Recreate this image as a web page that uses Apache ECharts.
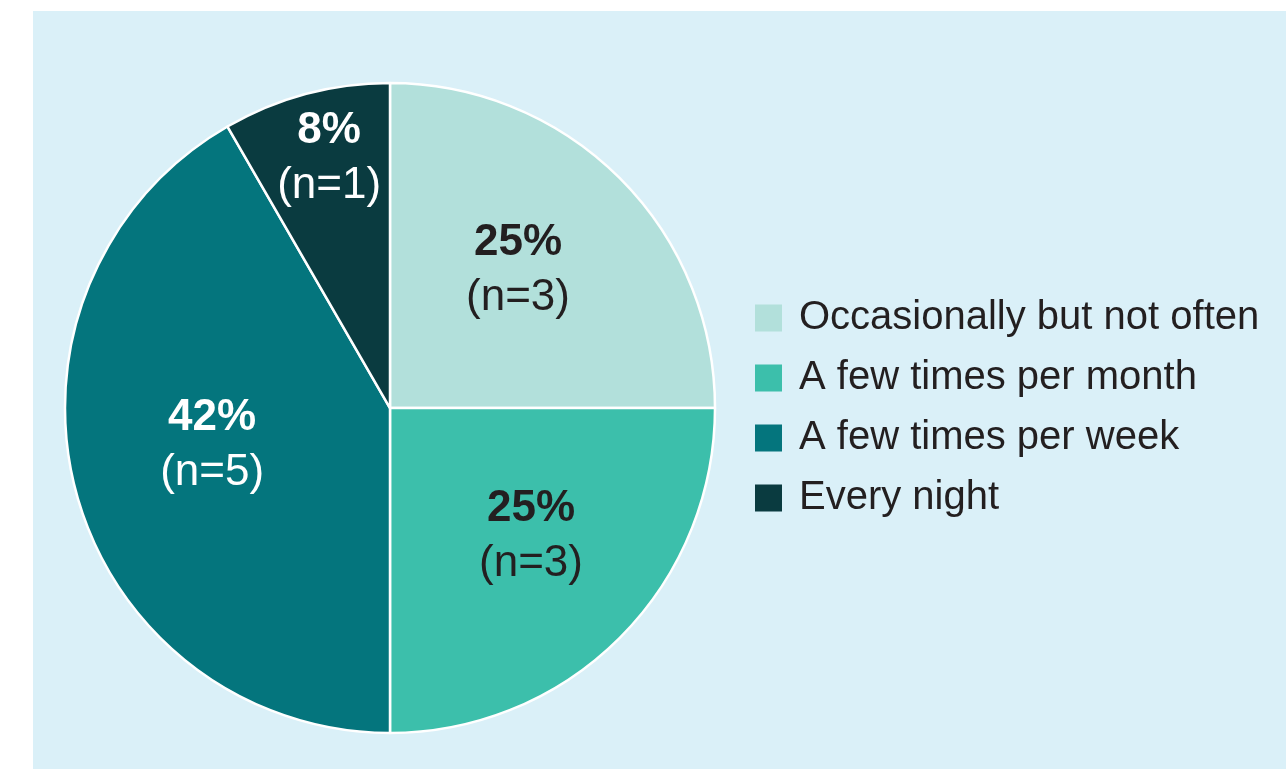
<!DOCTYPE html>
<html>
<head>
<meta charset="utf-8">
<script src="https://cdn.jsdelivr.net/npm/echarts@6/dist/echarts.min.js"></script>
<style>
  html, body { margin: 0; padding: 0; background: #fff; }
  #chart { width: 1286px; height: 769px; }
</style>
</head>
<body>
<div id="chart"></div>
<script>
// data
const categories = ['Occasionally but not often', 'A few times per month', 'A few times per week', 'Every night']
const counts = [3, 3, 5, 1]

// styling
const sliceColors = ['#b2e0db', '#3cbfab', '#04757d', '#0a3b40']
const labelDark = [true, true, false, false]
const labelShift = [[11, -21], [24, 11], [-18, -5], [-18, -90]]

const chart = echarts.init(document.getElementById('chart'))

const font = 'Liberation Sans, Arial, sans-serif'

const option = {
  animation: false,
  backgroundColor: '#fff',
  color: sliceColors,
  graphic: [{
    type: 'rect',
    z: -10,
    silent: true,
    shape: { x: 33, y: 11, width: 1253, height: 758 },
    style: { fill: '#daf0f8' }
  }],
  legend: {
    orient: 'vertical',
    left: 750,
    top: 293,
    itemWidth: 27,
    itemHeight: 27,
    itemGap: 20,
    icon: 'rect',
    itemStyle: { borderWidth: 0 },
    data: categories,
    textStyle: {
      fontFamily: font,
      fontSize: 40,
      lineHeight: 40,
      color: '#231f20',
      padding: [0, 0, 0, 12]
    }
  },
  series: [{
    type: 'pie',
    center: [390, 408],
    radius: 325,
    startAngle: 90,
    clockwise: true,
    silent: true,
    itemStyle: { borderColor: '#fff', borderWidth: 2.5 },
    label: {
      show: true,
      position: 'inside',
      fontFamily: font,
      formatter: function (p) {
        const s = labelDark[p.dataIndex] ? 'd' : 'l'
        return '{p' + s + '|' + Math.round(p.percent) + '%}\n{n' + s + '|(n=' + p.value + ')}'
      },
      rich: {
        pd: { fontSize: 44, fontWeight: 'bold', color: '#231f20', lineHeight: 55, fontFamily: font },
        nd: { fontSize: 44, color: '#231f20', lineHeight: 55, fontFamily: font },
        pl: { fontSize: 44, fontWeight: 'bold', color: '#ffffff', lineHeight: 55, fontFamily: font },
        nl: { fontSize: 44, color: '#ffffff', lineHeight: 55, fontFamily: font }
      }
    },
    labelLine: { show: false },
    labelLayout: function (params) {
      const s = labelShift[params.dataIndex]
      return { dx: s[0], dy: s[1] }
    },
    data: categories.map(function (name, i) {
      return { name: name, value: counts[i] }
    })
  }]
}

chart.setOption(option)
</script>
</body>
</html>
